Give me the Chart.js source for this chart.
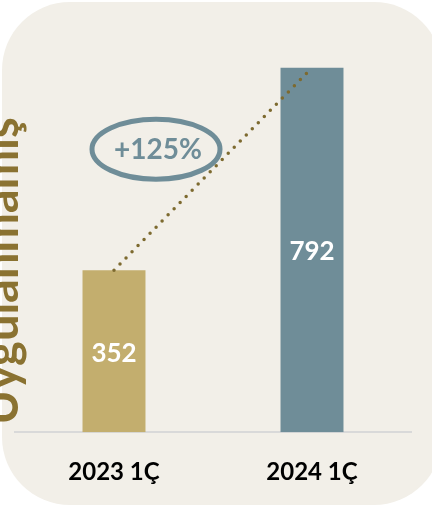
<!DOCTYPE html>
<html>
<head>
<meta charset="utf-8">
<script src="https://cdn.jsdelivr.net/npm/chart.js@4"></script>
<style>
  html, body { margin: 0; padding: 0; background: #ffffff; }
  #panel {
    position: absolute; left: 2px; top: 2px; width: 440px; height: 503px;
    background: #F2EFE8; border-radius: 68px;
  }
  #wrap { position: absolute; left: 0; top: 0; width: 432px; height: 506px; }
</style>
</head>
<body>
<div id="panel"></div>
<div id="wrap"><canvas id="chart"></canvas></div>
<script>
const categories = ['2023 1Ç', '2024 1Ç'];
const values = [352, 792];
const barColors = ['#C3AE6E', '#6F8D98'];
const axisTitle = 'Uygulanmamış';
const changeLabel = '+125%';

const decorPlugin = {
    id: 'decor',
    afterDatasetsDraw(chart) {
        const ctx = chart.ctx;
        const x = chart.scales.x;
        const y = chart.scales.y;
        const bars = chart.getDatasetMeta(1).data;

        // values inside bars
        ctx.save();
        ctx.fillStyle = '#ffffff';
        ctx.font = 'bold 26px Lato';
        ctx.textAlign = 'center';
        ctx.textBaseline = 'middle';
        bars.forEach(function (bar, i) {
            const mid = (bar.y + bar.base) / 2;
            ctx.fillText(String(values[i]), bar.x, mid + 2);
        });
        ctx.restore();

        // growth ellipse
        const cx = x.getPixelForValue(0) + 42;
        const cy = y.getPixelForValue(615);
        ctx.save();
        ctx.strokeStyle = '#6F8D98';
        ctx.lineWidth = 5;
        ctx.beginPath();
        ctx.ellipse(cx, cy, 64, 30, 0, 0, Math.PI * 2);
        ctx.stroke();
        ctx.fillStyle = '#6F8D98';
        ctx.font = 'bold 28px Lato';
        ctx.textAlign = 'center';
        ctx.textBaseline = 'middle';
        ctx.fillText(changeLabel, cx + 2, cy + 1);
        ctx.restore();

        // rotated axis title
        ctx.save();
        ctx.translate(18, 271);
        ctx.rotate(-Math.PI / 2);
        ctx.fillStyle = '#8A7231';
        ctx.font = 'bold 47px Lato';
        ctx.textAlign = 'center';
        ctx.textBaseline = 'alphabetic';
        ctx.fillText(axisTitle, 0, 0);
        ctx.restore();
    }
};

new Chart(document.getElementById('chart'), {
    type: 'bar',
    data: {
        labels: categories,
        datasets: [{
            type: 'line',
            data: values,
            borderColor: '#7D6A2F',
            borderWidth: 3.5,
            borderDash: [0, 8.6],
            borderCapStyle: 'round',
            pointRadius: 0,
            fill: false,
            order: 0
        }, {
            data: values,
            backgroundColor: barColors,
            barPercentage: 0.318,
            categoryPercentage: 1,
            order: 1
        }]
    },
    options: {
        responsive: true,
        maintainAspectRatio: false,
        animation: false,
        layout: { padding: { left: 15, right: 21, top: 18, bottom: -7 } },
        plugins: { legend: { display: false }, tooltip: { enabled: false } },
        scales: {
            x: {
                grid: { display: false, drawTicks: false },
                border: { color: '#D9D9D9', width: 2 },
                ticks: { color: '#000000', font: { family: 'Lato', size: 24, weight: 'bold' }, padding: 26 }
            },
            y: {
                display: false,
                min: 0,
                max: 900
            }
        }
    },
    plugins: [decorPlugin]
});
</script>
</body>
</html>
